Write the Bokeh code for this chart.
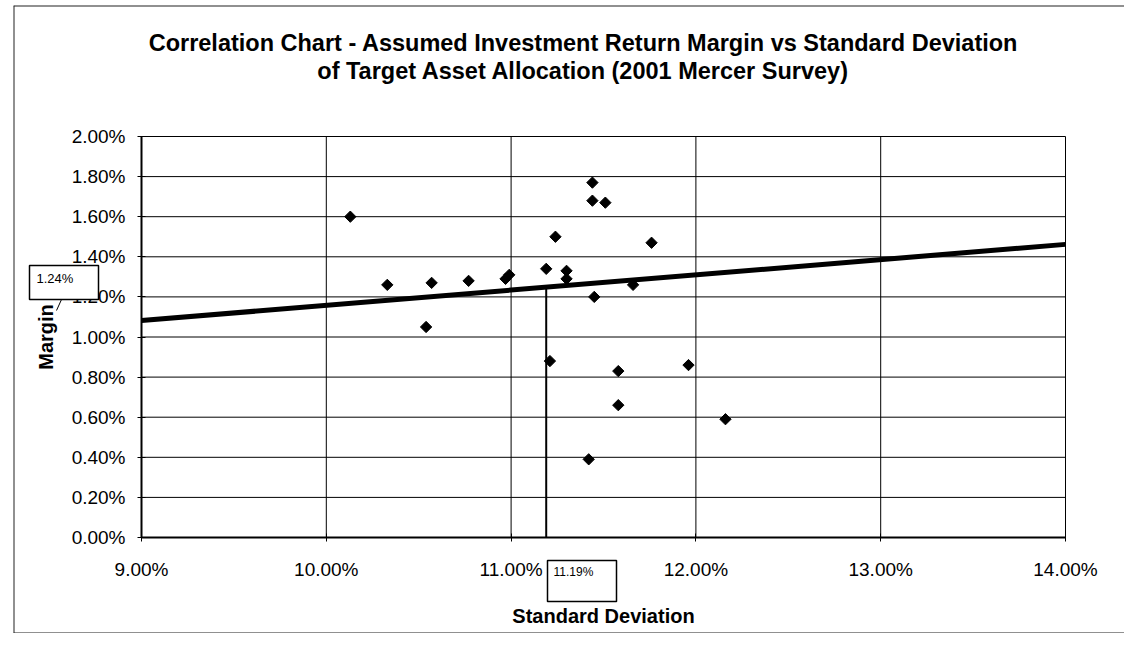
from bokeh.plotting import figure
from bokeh.models import Label, PrintfTickFormatter, FixedTicker, Range1d
from bokeh.core.properties import value
from bokeh.embed import file_html
from bokeh.resources import INLINE
import math

# ---- data (percent units) ----
std_dev = [10.13, 10.33, 10.57, 10.77, 10.97, 10.99, 10.54, 11.19, 11.24, 11.30,
           11.30, 11.44, 11.44, 11.45, 11.51, 11.76, 11.66, 11.21, 11.58, 11.58,
           11.96, 12.16, 11.42]
margin = [1.60, 1.26, 1.27, 1.28, 1.29, 1.31, 1.05, 1.34, 1.50, 1.33,
          1.29, 1.77, 1.68, 1.20, 1.67, 1.47, 1.26, 0.88, 0.83, 0.66,
          0.86, 0.59, 0.39]
trend_x = [9.0, 14.0]
trend_y = [1.082, 1.462]
x_ticks = [9, 10, 11, 12, 13, 14]
y_ticks = [0.0, 0.2, 0.4, 0.6, 0.8, 1.0, 1.2, 1.4, 1.6, 1.8, 2.0]
covered_tick = 1.2            # y tick label partly hidden behind the callout box
avg_std = 11.19
avg_margin = 1.24
title_lines = ["Correlation Chart - Assumed Investment Return Margin vs Standard Deviation",
               "of Target Asset Allocation (2001 Mercer Survey)"]
x_label = "Standard Deviation"
y_label = "Margin"

FONT = "Liberation Sans"

# ---- layout geometry (picture pixels) ----
FIG_W, FIG_H = 1124, 633
ORIGIN = 1                    # where the figure's top-left lands in the picture
FRAME_L, FRAME_T = 14, 6      # chart-area border
AX_X0, AX_Y0 = 142.0, 538.0   # picture px of (9%, 0%)
KX, KY = 184.8, 200.5         # px per 1 percentage point


def dx(px):
    return x_ticks[0] + (px - AX_X0) / KX


def dy(py):
    return y_ticks[0] + (AX_Y0 - py) / KY


x0, x1 = dx(FRAME_L), dx(ORIGIN + FIG_W)
y0, y1 = dy(ORIGIN + FIG_H), dy(FRAME_T)

p = figure(width=FIG_W, height=FIG_H, x_range=Range1d(x0, x1), y_range=Range1d(y0, y1),
           output_backend="svg", toolbar_location=None,
           min_border_left=FRAME_L - ORIGIN, min_border_right=0,
           min_border_top=FRAME_T - ORIGIN, min_border_bottom=0,
           background_fill_color="white", border_fill_color="white")
p.outline_line_color = None
p.xgrid.visible = False
p.ygrid.visible = False

# chart-area border (left, top, bottom)
p.segment(x0=[x0, x0, x0], y0=[y0, y1, y0], x1=[x0, x1, x1], y1=[y1, y1, y0],
          line_color="#222222", line_width=2)

# plot-area gridlines at the tick values
xmin, xmax = x_ticks[0], x_ticks[-1]
ymin, ymax = y_ticks[0], y_ticks[-1]
p.segment(x0=x_ticks, y0=[ymin] * len(x_ticks), x1=x_ticks, y1=[ymax] * len(x_ticks),
          line_color="black", line_width=1)
p.segment(x0=[xmin] * len(y_ticks), y0=y_ticks, x1=[xmax] * len(y_ticks), y1=y_ticks,
          line_color="black", line_width=1)

for ax, ticks in ((p.xaxis, x_ticks), (p.yaxis, y_ticks)):
    ax.ticker = FixedTicker(ticks=ticks)
    ax.formatter = PrintfTickFormatter(format="%.2f%%")
    ax.bounds = (ticks[0], ticks[-1])
    ax.major_label_text_font = FONT
    ax.major_label_text_font_size = "19px"
    ax.major_label_text_color = "black"
    ax.axis_line_color = "black"
    ax.axis_line_width = 2
    ax.major_tick_line_color = "black"
    ax.major_tick_in = 4
    ax.major_tick_out = 4
    ax.minor_tick_line_color = None
    ax.axis_label_text_font = FONT
    ax.axis_label_text_font_style = "bold"
    ax.axis_label_text_font_size = "20px"
    ax.axis_label_text_color = "black"

p.xaxis.fixed_location = ymin
p.yaxis.fixed_location = xmin
p.xaxis.axis_label = x_label
p.yaxis.axis_label = y_label
p.xaxis.major_label_standoff = 17
p.yaxis.major_label_standoff = 12
p.xaxis.axis_label_standoff = 22
p.yaxis.axis_label_standoff = 12
# the tick label that sits under the callout box is drawn as a glyph so the box can cover it
p.yaxis.major_label_overrides = {covered_tick: ""}
p.text(x=[dx(AX_X0 - 16)], y=[covered_tick], text=[f"{covered_tick:.2f}%"],
       text_align="right", text_baseline="middle",
       text_font=value(FONT), text_font_size="19px", text_color="black")

# trend line and drop line
p.line(trend_x, trend_y, line_color="black", line_width=5)
p.segment(x0=[avg_std], y0=[0], x1=[avg_std], y1=[avg_margin], line_color="black", line_width=2)

# points
p.scatter(std_dev, margin, marker="square", size=8, angle=math.pi / 4,
          fill_color="black", line_color="black")

# titles
for line, base in zip(title_lines, (43, 71)):
    p.add_layout(Label(x=dx(584), y=dy(base), text=line,
                       text_align="center", text_baseline="alphabetic",
                       text_font=FONT, text_font_style="bold", text_font_size="23.5px",
                       text_color="black"))

# callout boxes: white boxes drawn as glyphs, text on top
p.segment(x0=[dx(62)], y0=[dy(300)], x1=[dx(57)], y1=[dy(311)], line_color="black", line_width=1)
p.quad(left=[dx(30), dx(548)], right=[dx(99), dx(617)],
       top=[dy(266), dy(561)], bottom=[dy(300), dy(602)],
       fill_color="white", line_color="black", line_width=1.5)
p.add_layout(Label(x=dx(37), y=dy(271), text=f"{avg_margin:.2f}%",
                   text_align="left", text_baseline="top",
                   text_font=FONT, text_font_size="13px", text_color="black"))
p.add_layout(Label(x=dx(554), y=dy(565), text=f"{avg_std:.2f}%",
                   text_align="left", text_baseline="top",
                   text_font=FONT, text_font_size="12px", text_color="black"))

open("out.html", "w").write(file_html(p, INLINE))
